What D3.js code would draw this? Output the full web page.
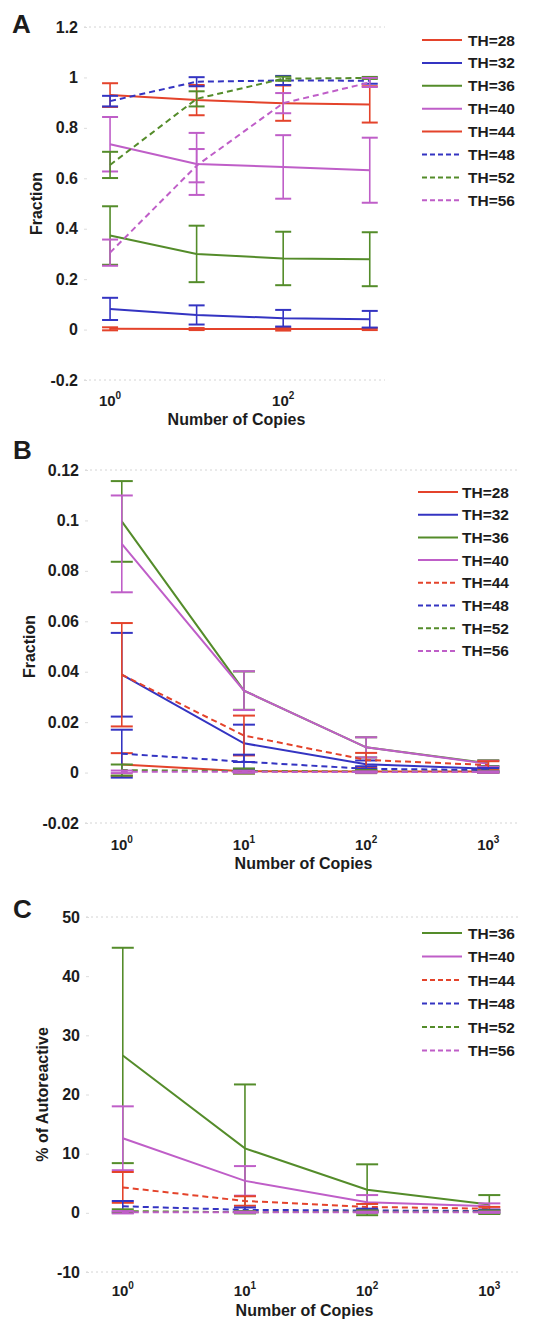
<!DOCTYPE html>
<html>
<head>
<meta charset="utf-8">
<script src="https://cdn.jsdelivr.net/npm/d3@7"></script>
<style>
  body { margin: 0; background: #ffffff; }
  svg { display: block; }
  text { font-family: "Liberation Sans", Arial, Helvetica, sans-serif; font-weight: bold; fill: #1c1c1c; }
</style>
</head>
<body>
<svg id="fig" width="548" height="1322"></svg>
<script>
// ---- data -------------------------------------------------------------
const copies = [1, 10, 100, 1000];

const thLabelsAB = ["TH=28", "TH=32", "TH=36", "TH=40", "TH=44", "TH=48", "TH=52", "TH=56"];
const thLabelsC  = ["TH=36", "TH=40", "TH=44", "TH=48", "TH=52", "TH=56"];

// Panel A: fraction (mean and error half-width) per threshold
const fracA_TH28 = [0.003, 0.002, 0.002, 0.002];
const errA_TH28  = [0.006, 0.004, 0.006, 0.004];
const fracA_TH32 = [0.082, 0.058, 0.045, 0.041];
const errA_TH32  = [0.044, 0.038, 0.033, 0.033];
const fracA_TH36 = [0.373, 0.300, 0.282, 0.279];
const errA_TH36  = [0.116, 0.112, 0.106, 0.107];
const fracA_TH40 = [0.735, 0.657, 0.645, 0.632];
const errA_TH40  = [0.108, 0.123, 0.126, 0.129];
const fracA_TH44 = [0.930, 0.910, 0.898, 0.893];
const errA_TH44  = [0.047, 0.060, 0.070, 0.072];
const fracA_TH48 = [0.906, 0.983, 0.988, 0.987];
const errA_TH48  = [0.021, 0.018, 0.018, 0.012];
const fracA_TH52 = [0.653, 0.915, 0.995, 0.998];
const errA_TH52  = [0.052, 0.030, 0.008, 0.004];
const fracA_TH56 = [0.305, 0.650, 0.898, 0.980];
const errA_TH56  = [0.052, 0.066, 0.040, 0.018];

// Panel B: fraction (mean and error half-width) per threshold
const fracB_TH28 = [0.0032, 0.0005, 0.0004, 0.0004];
const errB_TH28  = [0.0045, 0.0008, 0.0006, 0.0005];
const fracB_TH32 = [0.0388, 0.0116, 0.0033, 0.0015];
const errB_TH32  = [0.0166, 0.0074, 0.0015, 0.0010];
const fracB_TH36 = [0.0996, 0.0325, 0.0100, 0.0037];
const errB_TH36  = [0.0160, 0.0076, 0.0040, 0.0012];
const fracB_TH40 = [0.0907, 0.0325, 0.0100, 0.0035];
const errB_TH40  = [0.0192, 0.0077, 0.0040, 0.0012];
const fracB_TH44 = [0.0388, 0.0147, 0.0050, 0.0030];
const errB_TH44  = [0.0205, 0.0079, 0.0028, 0.0015];
const fracB_TH48 = [0.0075, 0.0043, 0.0015, 0.0010];
const errB_TH48  = [0.0095, 0.0028, 0.0010, 0.0008];
const fracB_TH52 = [0.0010, 0.0006, 0.0004, 0.0003];
const errB_TH52  = [0.0022, 0.0010, 0.0006, 0.0004];
const fracB_TH56 = [0.0003, 0.0003, 0.0002, 0.0002];
const errB_TH56  = [0.0005, 0.0004, 0.0003, 0.0003];

// Panel C: % of autoreactive (mean and error half-width) per threshold
const pctC_TH36 = [26.6, 10.9, 3.9, 1.4];
const errC_TH36 = [18.2, 10.8, 4.3, 1.6];
const pctC_TH40 = [12.6, 5.4, 1.8, 1.1];
const errC_TH40 = [5.4, 2.5, 1.2, 0.5];
const pctC_TH44 = [4.3, 2.0, 1.0, 0.7];
const errC_TH44 = [2.6, 0.8, 0.5, 0.3];
const pctC_TH48 = [1.1, 0.5, 0.4, 0.3];
const errC_TH48 = [0.9, 0.4, 0.3, 0.2];
const pctC_TH52 = [0.3, 0.1, 0.2, 0.2];
const errC_TH52 = [0.3, 0.2, 0.2, 0.2];
const pctC_TH56 = [0.1, 0.1, 0.1, 0.1];
const errC_TH56 = [0.2, 0.1, 0.1, 0.1];

// Axis ticks
const yTicksA = [-0.2, 0, 0.2, 0.4, 0.6, 0.8, 1, 1.2];
const yTicksB = [-0.02, 0, 0.02, 0.04, 0.06, 0.08, 0.1, 0.12];
const yTicksC = [-10, 0, 10, 20, 30, 40, 50];
const xTicksA = [1, 100];
const xTicksBC = [1, 10, 100, 1000];

// ---- styling ----------------------------------------------------------
const RED = "#e4432b", BLUE = "#3434c2", GREEN = "#548c2a", PURPLE = "#bf5ec8";
const thColor = { "TH=28": RED, "TH=32": BLUE, "TH=36": GREEN, "TH=40": PURPLE,
                  "TH=44": RED, "TH=48": BLUE, "TH=52": GREEN, "TH=56": PURPLE };

const svg = d3.select("#fig");

function makeSeries(labels, means, errs, dashedSet) {
  return labels.map((name, i) => ({
    name, values: means[i], errs: errs[i], color: thColor[name], dashed: dashedSet.includes(name)
  }));
}

const panels = [
  {
    letter: "A", letterPos: [12, 33],
    xDomain: [0.5, 1500], xRange: [84, 385], yDomain: [-0.2, 1.2], yRange: [380, 27],
    yTicks: yTicksA, xTicks: xTicksA, cap: 8,
    ylabel: "Fraction", ylabelX: 42, xlabelY: 425, xtickY: 406,
    legend: { x0: 422, x1: 462, tx: 468, y0: 40, step: 22.9 },
    series: makeSeries(thLabelsAB,
      [fracA_TH28, fracA_TH32, fracA_TH36, fracA_TH40, fracA_TH44, fracA_TH48, fracA_TH52, fracA_TH56],
      [errA_TH28, errA_TH32, errA_TH36, errA_TH40, errA_TH44, errA_TH48, errA_TH52, errA_TH56],
      ["TH=48", "TH=52", "TH=56"])
  },
  {
    letter: "B", letterPos: [13, 459],
    xDomain: [0.5, 1750], xRange: [85, 518], yDomain: [-0.02, 0.12], yRange: [823, 470],
    yTicks: yTicksB, xTicks: xTicksBC, cap: 11,
    ylabel: "Fraction", ylabelX: 35, xlabelY: 869, xtickY: 850,
    legend: { x0: 418, x1: 458, tx: 462, y0: 492, step: 22.7 },
    series: makeSeries(thLabelsAB,
      [fracB_TH28, fracB_TH32, fracB_TH36, fracB_TH40, fracB_TH44, fracB_TH48, fracB_TH52, fracB_TH56],
      [errB_TH28, errB_TH32, errB_TH36, errB_TH40, errB_TH44, errB_TH48, errB_TH52, errB_TH56],
      ["TH=44", "TH=48", "TH=52", "TH=56"])
  },
  {
    letter: "C", letterPos: [13, 918],
    xDomain: [0.5, 1750], xRange: [86, 519], yDomain: [-10, 50], yRange: [1272, 917],
    yTicks: yTicksC, xTicks: xTicksBC, cap: 11,
    ylabel: "% of Autoreactive", ylabelX: 48, xlabelY: 1316, xtickY: 1296,
    legend: { x0: 422, x1: 462, tx: 468, y0: 933, step: 23.5 },
    series: makeSeries(thLabelsC,
      [pctC_TH36, pctC_TH40, pctC_TH44, pctC_TH48, pctC_TH52, pctC_TH56],
      [errC_TH36, errC_TH40, errC_TH44, errC_TH48, errC_TH52, errC_TH56],
      ["TH=44", "TH=48", "TH=52", "TH=56"])
  }
];

const DASH = "6,4";

panels.forEach(p => {
  const x = d3.scaleLog().domain(p.xDomain).range(p.xRange);
  const y = d3.scaleLinear().domain(p.yDomain).range(p.yRange);
  const g = svg.append("g");

  // faint frame (top and bottom edges)
  [p.yDomain[0], p.yDomain[1]].forEach(v => {
    g.append("line")
      .attr("x1", p.xRange[0]).attr("x2", p.xRange[1])
      .attr("y1", y(v)).attr("y2", y(v))
      .attr("stroke", "#d4d4d4").attr("stroke-width", 1).attr("stroke-dasharray", "2,3");
  });

  // y axis
  const yAxis = d3.axisLeft(y).tickValues(p.yTicks).tickFormat(d => String(d)).tickSize(-3).tickPadding(6);
  const ya = g.append("g").attr("transform", `translate(${p.xRange[0]},0)`).call(yAxis);
  ya.select(".domain").remove();
  ya.selectAll(".tick line").attr("stroke", "#dcdcdc");
  ya.selectAll(".tick text").attr("font-size", 16).attr("font-family", null).attr("fill", "#1c1c1c");

  // x tick labels as powers of ten
  p.xTicks.forEach(v => {
    const t = g.append("text")
      .attr("x", x(v)).attr("y", p.xtickY)
      .attr("text-anchor", "middle").attr("font-size", 15);
    t.append("tspan").text("10");
    t.append("tspan").attr("dy", -7).attr("font-size", 10).text(String(Math.round(Math.log10(v))));
  });

  // axis titles
  g.append("text").attr("x", (p.xRange[0] + p.xRange[1]) / 2 + 2).attr("y", p.xlabelY)
    .attr("text-anchor", "middle").attr("font-size", 16).text("Number of Copies");
  g.append("text")
    .attr("transform", `translate(${p.ylabelX},${(p.yRange[0] + p.yRange[1]) / 2}) rotate(-90)`)
    .attr("text-anchor", "middle").attr("font-size", 16).text(p.ylabel);

  // panel letter
  g.append("text").attr("x", p.letterPos[0]).attr("y", p.letterPos[1])
    .attr("font-size", 26).text(p.letter);

  // series: error bars then connecting line, in order
  const line = d3.line().x(d => x(d.c)).y(d => y(d.v));
  p.series.forEach(s => {
    const pts = copies.map((c, i) => ({ c, v: s.values[i], e: s.errs[i] }));
    const sg = g.append("g");
    const eb = sg.selectAll("g.eb").data(pts).join("g").attr("class", "eb");
    eb.append("line")
      .attr("x1", d => x(d.c)).attr("x2", d => x(d.c))
      .attr("y1", d => y(d.v - d.e)).attr("y2", d => y(d.v + d.e))
      .attr("stroke", s.color).attr("stroke-width", 1.6);
    [-1, 1].forEach(sign => {
      eb.append("line")
        .attr("x1", d => x(d.c) - p.cap).attr("x2", d => x(d.c) + p.cap)
        .attr("y1", d => y(d.v + sign * d.e)).attr("y2", d => y(d.v + sign * d.e))
        .attr("stroke", s.color).attr("stroke-width", 2);
    });
    sg.append("path").datum(pts).attr("d", line)
      .attr("fill", "none").attr("stroke", s.color).attr("stroke-width", 2)
      .attr("stroke-dasharray", s.dashed ? DASH : null);
  });

  // legend
  const L = p.legend;
  p.series.forEach((s, i) => {
    const yy = L.y0 + i * L.step;
    g.append("line").attr("x1", L.x0).attr("x2", L.x1).attr("y1", yy).attr("y2", yy)
      .attr("stroke", s.color).attr("stroke-width", 2)
      .attr("stroke-dasharray", s.dashed ? "5,3" : null);
    g.append("text").attr("x", L.tx).attr("y", yy + 5.5).attr("font-size", 15.5).text(s.name);
  });
});
</script>
</body>
</html>
